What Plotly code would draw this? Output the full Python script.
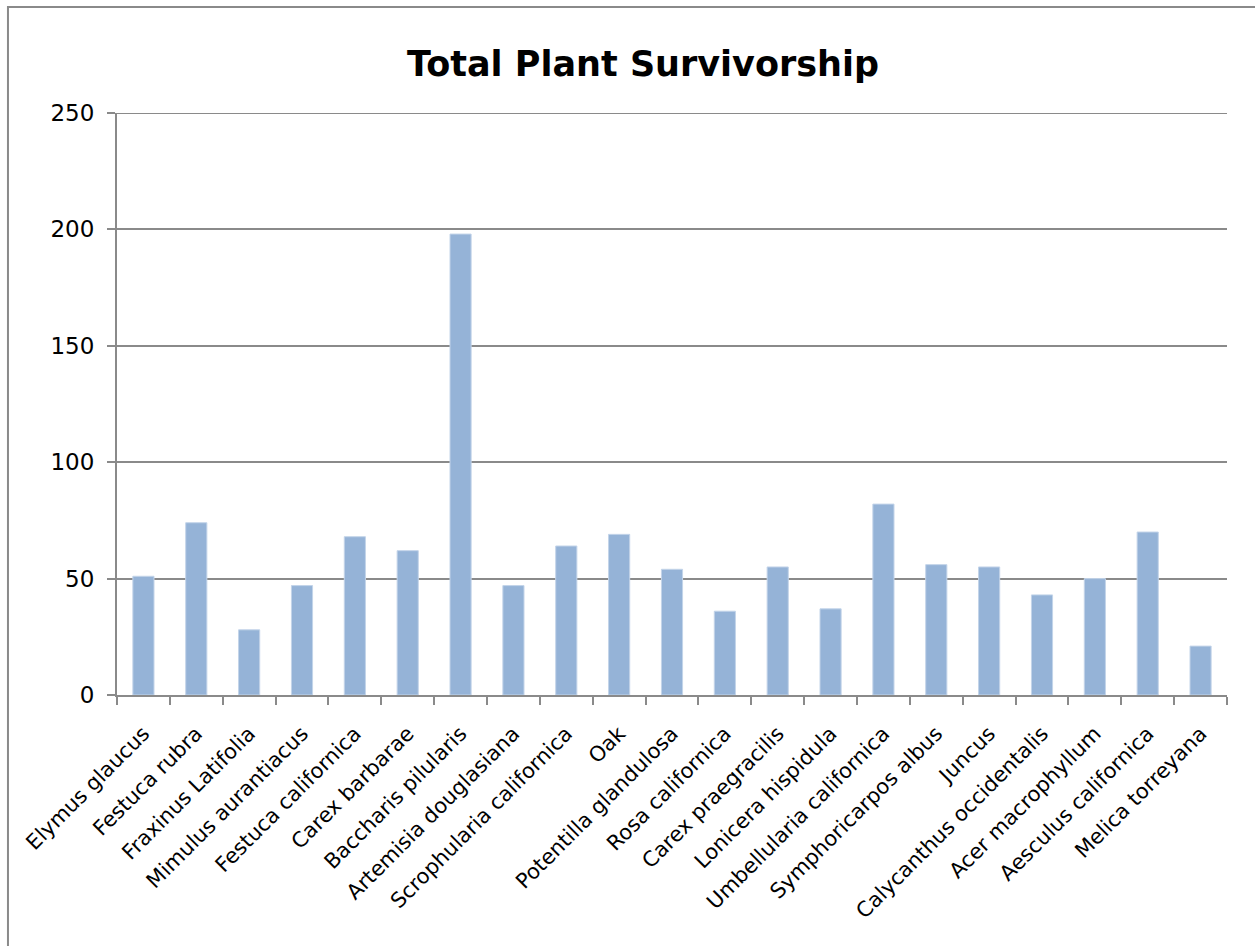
import plotly.graph_objects as go

categories = [
    "Elymus glaucus", "Festuca rubra", "Fraxinus Latifolia", "Mimulus aurantiacus",
    "Festuca californica", "Carex barbarae", "Baccharis pilularis", "Artemisia douglasiana",
    "Scrophularia californica", "Oak", "Potentilla glandulosa", "Rosa californica",
    "Carex praegracilis", "Lonicera hispidula", "Umbellularia californica",
    "Symphoricarpos albus", "Juncus", "Calycanthus occidentalis", "Acer macrophyllum",
    "Aesculus californica", "Melica torreyana",
]
survivors = [51, 74, 28, 47, 68, 62, 198, 47, 64, 69, 54, 36, 55, 37, 82, 56, 55, 43, 50, 70, 21]
y_ticks = [0, 50, 100, 150, 200, 250]

W, H = 1255, 946
L, R, T, B = 117, 1226.7, 113, 695

fig = go.Figure(
    go.Bar(
        x=categories,
        y=survivors,
        marker=dict(color="#95B3D7", line=dict(color="#C3D4E9", width=1)),
        width=0.4,
    )
)

grid = "#8A8A8A"
font_family = "DejaVu Sans"

fig.update_layout(
    width=W,
    height=H,
    margin=dict(l=L, r=W - R, t=T, b=H - B, pad=0),
    paper_bgcolor="white",
    plot_bgcolor="white",
    showlegend=False,
    title=dict(
        text="<b>Total Plant Survivorship</b>",
        x=643 / W,
        xanchor="center",
        y=1 - 64 / H,
        yanchor="middle",
        font=dict(family=font_family, size=35, color="black"),
    ),
    font=dict(family=font_family, color="black"),
    xaxis=dict(
        type="category",
        range=[-0.5, len(categories) - 0.5],
        tickson="boundaries",
        ticks="outside",
        ticklen=8,
        tickwidth=2,
        tickcolor=grid,
        showline=True,
        linecolor=grid,
        linewidth=2,
        showgrid=False,
        tickangle=-45,
        tickfont=dict(size=21, family=font_family, color="black"),
        ticklabelstandoff=16,
    ),
    yaxis=dict(
        range=[0, 250],
        tickvals=y_ticks,
        ticks="outside",
        ticklen=8,
        tickwidth=2,
        tickcolor=grid,
        showline=True,
        linecolor=grid,
        linewidth=2,
        showgrid=True,
        gridcolor=grid,
        gridwidth=2,
        zeroline=False,
        tickfont=dict(size=23, family=font_family, color="black"),
        ticklabelstandoff=8,
    ),
    shapes=[
        dict(
            type="rect",
            xref="paper",
            yref="paper",
            x0=(8 - L) / (R - L),
            x1=(1275 - L) / (R - L),
            y0=-(980 - B) / (B - T),
            y1=1 + (T - 7) / (B - T),
            line=dict(color="#8A8A8A", width=2),
            fillcolor="rgba(0,0,0,0)",
            layer="below",
        ),
        dict(
            type="line",
            xref="paper",
            yref="y",
            x0=0,
            x1=1,
            y0=y_ticks[-1],
            y1=y_ticks[-1],
            line=dict(color=grid, width=2),
            layer="below",
        ),
    ],
)

fig.write_html("out.html")
